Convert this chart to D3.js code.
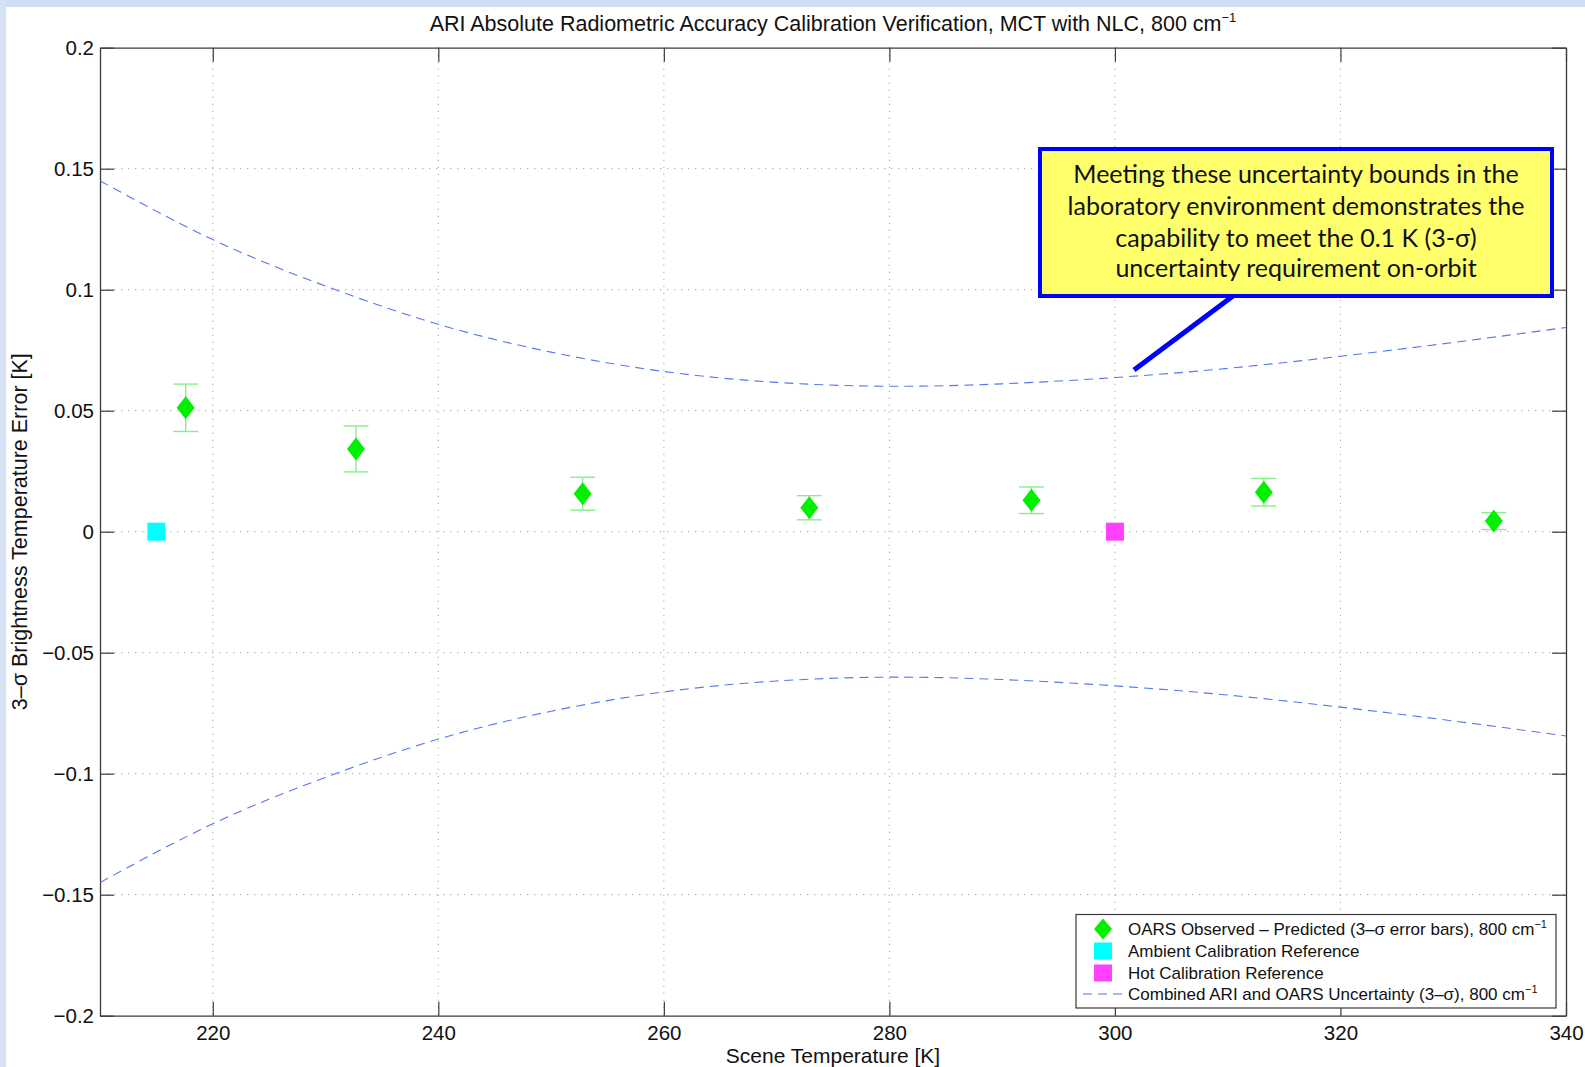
<!DOCTYPE html>
<html>
<head>
<meta charset="utf-8">
<script src="https://cdn.jsdelivr.net/npm/d3@7"></script>
<style>
  html, body { margin: 0; padding: 0; background: #fff; }
  svg { display: block; }
  text { font-family: "Liberation Sans", Arial, Helvetica, sans-serif; fill: #111; }
</style>
</head>
<body>
<svg id="chart" width="1585" height="1067"></svg>
<script>
// Observed minus predicted brightness temperature error (3-sigma), 800 cm^-1
const obsTemp = [217.6, 232.7, 252.8, 272.9, 292.6, 313.2, 333.6];
const obsErr  = [0.0512, 0.0342, 0.0157, 0.0099, 0.0130, 0.0163, 0.0044];
const obsBar  = [0.0098, 0.0095, 0.0068, 0.0050, 0.0055, 0.0057, 0.0035];

// Calibration reference blackbodies
const refNames = ["Ambient Calibration Reference", "Hot Calibration Reference"];
const refTemp  = [215, 300];
const refErr   = [0, 0];
const refColor = ["#00ffff", "#ff40ff"];

// Combined ARI and OARS uncertainty bound (3-sigma)
const uncTemp  = [210, 220, 230, 240, 250, 260, 270, 280, 290, 300, 310, 320, 330, 340];
const uncBound = [0.145, 0.1207, 0.1015, 0.0857, 0.0742, 0.0662, 0.0617, 0.0601, 0.0611, 0.0637, 0.0675, 0.0725, 0.0782, 0.0844];

const xTicks = [220, 240, 260, 280, 300, 320, 340];
const yTicks = [-0.2, -0.15, -0.1, -0.05, 0, 0.05, 0.1, 0.15, 0.2];

const calloutLines = [
  "Meeting these uncertainty bounds in the",
  "laboratory environment demonstrates the",
  "capability to meet the 0.1 K (3-σ)",
  "uncertainty requirement on-orbit"
];

const svg = d3.select("#chart");
const W = 1585, H = 1067;
const m = { left: 100, right: 1566, top: 47.7, bottom: 1015.7 };

// window frame strips
svg.append("rect").attr("x", 0).attr("y", 0).attr("width", W).attr("height", 7).attr("fill", "#cfdef3");
svg.append("rect").attr("x", 0).attr("y", 0).attr("width", 6).attr("height", H).attr("fill", "#d6e3f5");

const x = d3.scaleLinear().domain([210, 340]).range([m.left, m.right]);
const y = d3.scaleLinear().domain([-0.2, 0.2]).range([m.bottom, m.top]);

const fmt = v => {
  if (v === 0) return "0";
  const s = String(Math.abs(+v.toFixed(2)));
  return (v < 0 ? "\u2212" : "") + s;
};

// dotted grid
const grid = svg.append("g").attr("stroke", "#b4b4b4").attr("stroke-width", 1.2).attr("stroke-dasharray", "1.3,5.7");
grid.selectAll(".gx").data(xTicks.filter(t => t < 340)).join("line")
  .attr("x1", d => x(d)).attr("x2", d => x(d)).attr("y1", m.top).attr("y2", m.bottom);
grid.selectAll(".gy").data(yTicks.filter(t => t > -0.2 && t < 0.2)).join("line")
  .attr("x1", m.left).attr("x2", m.right).attr("y1", d => y(d)).attr("y2", d => y(d));

// axes (ticks pointing inward, mirrored on the opposite side)
const tickLen = 14;
const axB = svg.append("g").attr("transform", `translate(0,${m.bottom})`)
  .call(d3.axisBottom(x).tickValues(xTicks).tickSizeInner(-tickLen).tickSizeOuter(0).tickPadding(10).tickFormat(d3.format("d")));
const axT = svg.append("g").attr("transform", `translate(0,${m.top})`)
  .call(d3.axisTop(x).tickValues(xTicks).tickSizeInner(-tickLen).tickSizeOuter(0).tickFormat(""));
const axL = svg.append("g").attr("transform", `translate(${m.left},0)`)
  .call(d3.axisLeft(y).tickValues(yTicks).tickSizeInner(-tickLen).tickSizeOuter(0).tickPadding(6).tickFormat(fmt));
const axR = svg.append("g").attr("transform", `translate(${m.right},0)`)
  .call(d3.axisRight(y).tickValues(yTicks).tickSizeInner(-tickLen).tickSizeOuter(0).tickFormat(""));
[axB, axT, axL, axR].forEach(a => {
  a.select(".domain").attr("stroke", "#3a3a3a").attr("stroke-width", 1.3);
  a.selectAll(".tick line").attr("stroke", "#3a3a3a").attr("stroke-width", 1.2);
  a.selectAll("text").attr("font-size", 20.5).attr("font-family", "Liberation Sans, Arial, sans-serif").attr("fill", "#111");
});
axB.selectAll(".tick text").attr("dy", "0.71em");

// clip for plotted data
svg.append("clipPath").attr("id", "plotClip").append("rect")
  .attr("x", m.left).attr("y", m.top).attr("width", m.right - m.left).attr("height", m.bottom - m.top);
const plot = svg.append("g").attr("clip-path", "url(#plotClip)");

// uncertainty bounds
const line = d3.line().curve(d3.curveNatural);
const upper = uncTemp.map((t, i) => [x(t), y(uncBound[i])]);
const lower = uncTemp.map((t, i) => [x(t), y(-uncBound[i])]);
[upper, lower].forEach(pts => {
  plot.append("path").attr("d", line(pts)).attr("fill", "none")
    .attr("stroke", "#5577f0").attr("stroke-width", 1.1).attr("stroke-dasharray", "9,6");
});

// error bars
const bars = plot.append("g").attr("stroke", "#86f086").attr("stroke-width", 1.4);
obsTemp.forEach((t, i) => {
  const cx = x(t), y0 = y(obsErr[i] - obsBar[i]), y1 = y(obsErr[i] + obsBar[i]);
  bars.append("line").attr("x1", cx).attr("x2", cx).attr("y1", y0).attr("y2", y1);
  bars.append("line").attr("x1", cx - 12.5).attr("x2", cx + 12.5).attr("y1", y0).attr("y2", y0);
  bars.append("line").attr("x1", cx - 12.5).attr("x2", cx + 12.5).attr("y1", y1).attr("y2", y1);
});

const diamond = (cx, cy, w, h) => `M${cx},${cy - h / 2}L${cx + w / 2},${cy}L${cx},${cy + h / 2}L${cx - w / 2},${cy}Z`;
plot.selectAll(".obs").data(obsTemp).join("path")
  .attr("d", (t, i) => diamond(x(t), y(obsErr[i]), 18, 23))
  .attr("fill", "#00f000");

// calibration references
plot.selectAll(".ref").data(refTemp).join("rect")
  .attr("x", d => x(d) - 9).attr("y", (d, i) => y(refErr[i]) - 9)
  .attr("width", 18).attr("height", 18)
  .attr("fill", (d, i) => refColor[i]);

// title
const title = svg.append("text").attr("x", (m.left + m.right) / 2).attr("y", 31)
  .attr("text-anchor", "middle").attr("font-size", 21.5);
title.append("tspan").text("ARI Absolute Radiometric Accuracy Calibration Verification, MCT with NLC, 800 cm");
title.append("tspan").attr("dy", -9).attr("font-size", 13).text("\u22121");

// axis labels
svg.append("text").attr("x", (m.left + m.right) / 2).attr("y", 1063)
  .attr("text-anchor", "middle").attr("font-size", 21).text("Scene Temperature [K]");
svg.append("text").attr("transform", `translate(27,${(m.top + m.bottom) / 2}) rotate(-90)`)
  .attr("text-anchor", "middle").attr("font-size", 21.5).text("3\u2013\u03c3 Brightness Temperature Error [K]");

// legend
const lg = svg.append("g");
lg.append("rect").attr("x", 1076).attr("y", 914.5).attr("width", 480).attr("height", 93.5)
  .attr("fill", "#fff").attr("stroke", "#3a3a3a").attr("stroke-width", 1.2);
const rowY = [929, 951, 973, 994];
const lx = 1103, tx = 1128;
lg.append("path").attr("d", diamond(lx, rowY[0], 18, 21)).attr("fill", "#00f000");
refTemp.forEach((d, i) => {
  lg.append("rect").attr("x", lx - 9).attr("y", rowY[i + 1] - 8.5).attr("width", 18).attr("height", 17).attr("fill", refColor[i]);
});
lg.append("line").attr("x1", 1083).attr("x2", 1124).attr("y1", rowY[3]).attr("y2", rowY[3])
  .attr("stroke", "#5577f0").attr("stroke-width", 1.1).attr("stroke-dasharray", "9,6");
const legendLabels = [
  ["OARS Observed \u2013 Predicted (3\u2013\u03c3 error bars), 800 cm", true],
  [refNames[0], false],
  [refNames[1], false],
  ["Combined ARI and OARS Uncertainty (3\u2013\u03c3), 800 cm", true]
];
legendLabels.forEach(([s, sup], i) => {
  const t = lg.append("text").attr("x", tx).attr("y", rowY[i]).attr("dy", "0.35em").attr("font-size", 17);
  t.append("tspan").text(s);
  if (sup) t.append("tspan").attr("dy", -7).attr("font-size", 11).text("\u22121");
});

// callout
const box = { x: 1040, y: 149, w: 512, h: 147 };
svg.append("line").attr("x1", 1233).attr("y1", 296).attr("x2", 1134).attr("y2", 370)
  .attr("stroke", "#0000ff").attr("stroke-width", 5);
svg.append("rect").attr("x", box.x).attr("y", box.y).attr("width", box.w).attr("height", box.h)
  .attr("fill", "#ffff6b").attr("stroke", "#0000ff").attr("stroke-width", 4);
const cl = svg.append("g");
const baseY = [183, 215, 247, 277];
calloutLines.forEach((s, i) => {
  cl.append("text").attr("x", box.x + box.w / 2).attr("y", baseY[i]).attr("text-anchor", "middle")
    .attr("font-size", 23).style("font-family", "Lato, 'Open Sans', sans-serif").text(s);
});
// fit the widest callout line to the box
const widest = d3.max(cl.selectAll("text").nodes(), n => n.getComputedTextLength());
const fs = 23 * 457 / widest;
cl.selectAll("text").attr("font-size", fs);
</script>
</body>
</html>
